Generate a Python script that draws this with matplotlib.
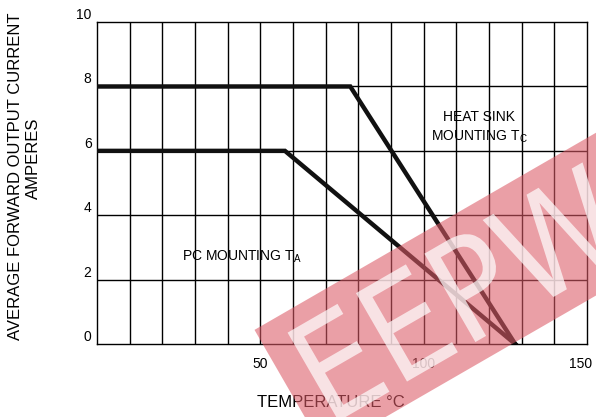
import matplotlib.pyplot as plt
from matplotlib.transforms import ScaledTranslation, Affine2D
from matplotlib.textpath import TextPath
from matplotlib.patches import PathPatch, Rectangle
from matplotlib.font_manager import FontProperties

plt.rcParams['font.family'] = ['Liberation Sans', 'DejaVu Sans']
plt.rcParams['mathtext.fontset'] = 'custom'
plt.rcParams['mathtext.rm'] = 'Liberation Sans'
plt.rcParams['mathtext.default'] = 'regular'

# derating curves
temp_heatsink = [0, 77.5, 128]
amps_heatsink = [8, 8, 0]
temp_pc = [0, 57.5, 128]
amps_pc = [6, 6, 0]

x_ticks = [50, 100, 150]
y_ticks = [0, 2, 4, 6, 8, 10]

fig = plt.figure(figsize=(5.96, 4.17), dpi=100)
ax = fig.add_axes([0.163, 0.175, 0.822, 0.772])

ax.set_xlim(0, 150)
ax.set_ylim(0, 10)

# grid: every 10 deg, every 2 A
for x in range(10, 150, 10):
    ax.axvline(x, color='black', lw=1.0, zorder=1)
for y in range(2, 10, 2):
    ax.axhline(y, color='black', lw=1.0, zorder=1)
for s in ax.spines.values():
    s.set_linewidth(1.0)

ax.plot(temp_heatsink, amps_heatsink, color='#111111', lw=3.2, zorder=3,
        solid_joinstyle='miter')
ax.plot(temp_pc, amps_pc, color='#111111', lw=3.2, zorder=3,
        solid_joinstyle='miter')

ax.set_xticks(x_ticks)
ax.set_yticks(y_ticks)
ax.set_xticklabels([str(t) for t in x_ticks], fontsize=10)
ax.set_yticklabels([str(t) for t in y_ticks], fontsize=10)
ax.tick_params(axis='x', length=0, pad=9)
ax.tick_params(axis='y', length=0, pad=4)
for lab in ax.get_yticklabels():
    lab.set_verticalalignment('bottom')
# last x label sits a little inside the frame edge
last = ax.get_xticklabels()[-1]
last.set_transform(last.get_transform() + ScaledTranslation(-6 / 100, 0, fig.dpi_scale_trans))

ax.text(117, 7.05, 'HEAT SINK', ha='center', va='center', fontsize=10)
ax.text(117, 6.45, 'MOUNTING T$_C$', ha='center', va='center', fontsize=10)
ax.text(26, 2.7, 'PC MOUNTING T$_A$', ha='left', va='center', fontsize=10)

fig.text(0.555, 0.034, 'TEMPERATURE \u00b0C', ha='center', va='center', fontsize=12)
fig.text(0.026, 0.578, 'AVERAGE FORWARD OUTPUT CURRENT', rotation=90,
         ha='center', va='center', fontsize=12)
fig.text(0.056, 0.621, 'AMPERES', rotation=90, ha='center', va='center', fontsize=12)

# watermark: tilted pink band with pale letters cut into it
band_tr = Affine2D().rotate_deg(30).translate(3.25, -0.35) + fig.dpi_scale_trans
band = Rectangle((0, 0), 7.0, 1.41, transform=band_tr, facecolor='#dc5a66',
                 edgecolor='none', alpha=0.58, zorder=10)
fig.add_artist(band)

wm_path = TextPath((0, 0), 'EEPW', size=1.0,
                   prop=FontProperties(family='DejaVu Sans'))
wm_tr = (Affine2D().scale(1.25, 1.40).translate(0.15, 0.20)
         .rotate_deg(30).translate(3.25, -0.35) + fig.dpi_scale_trans)
wm = PathPatch(wm_path, transform=wm_tr, facecolor='white', edgecolor='none',
               alpha=0.7, zorder=11)
fig.add_artist(wm)

fig.savefig('out.png', dpi=100)
